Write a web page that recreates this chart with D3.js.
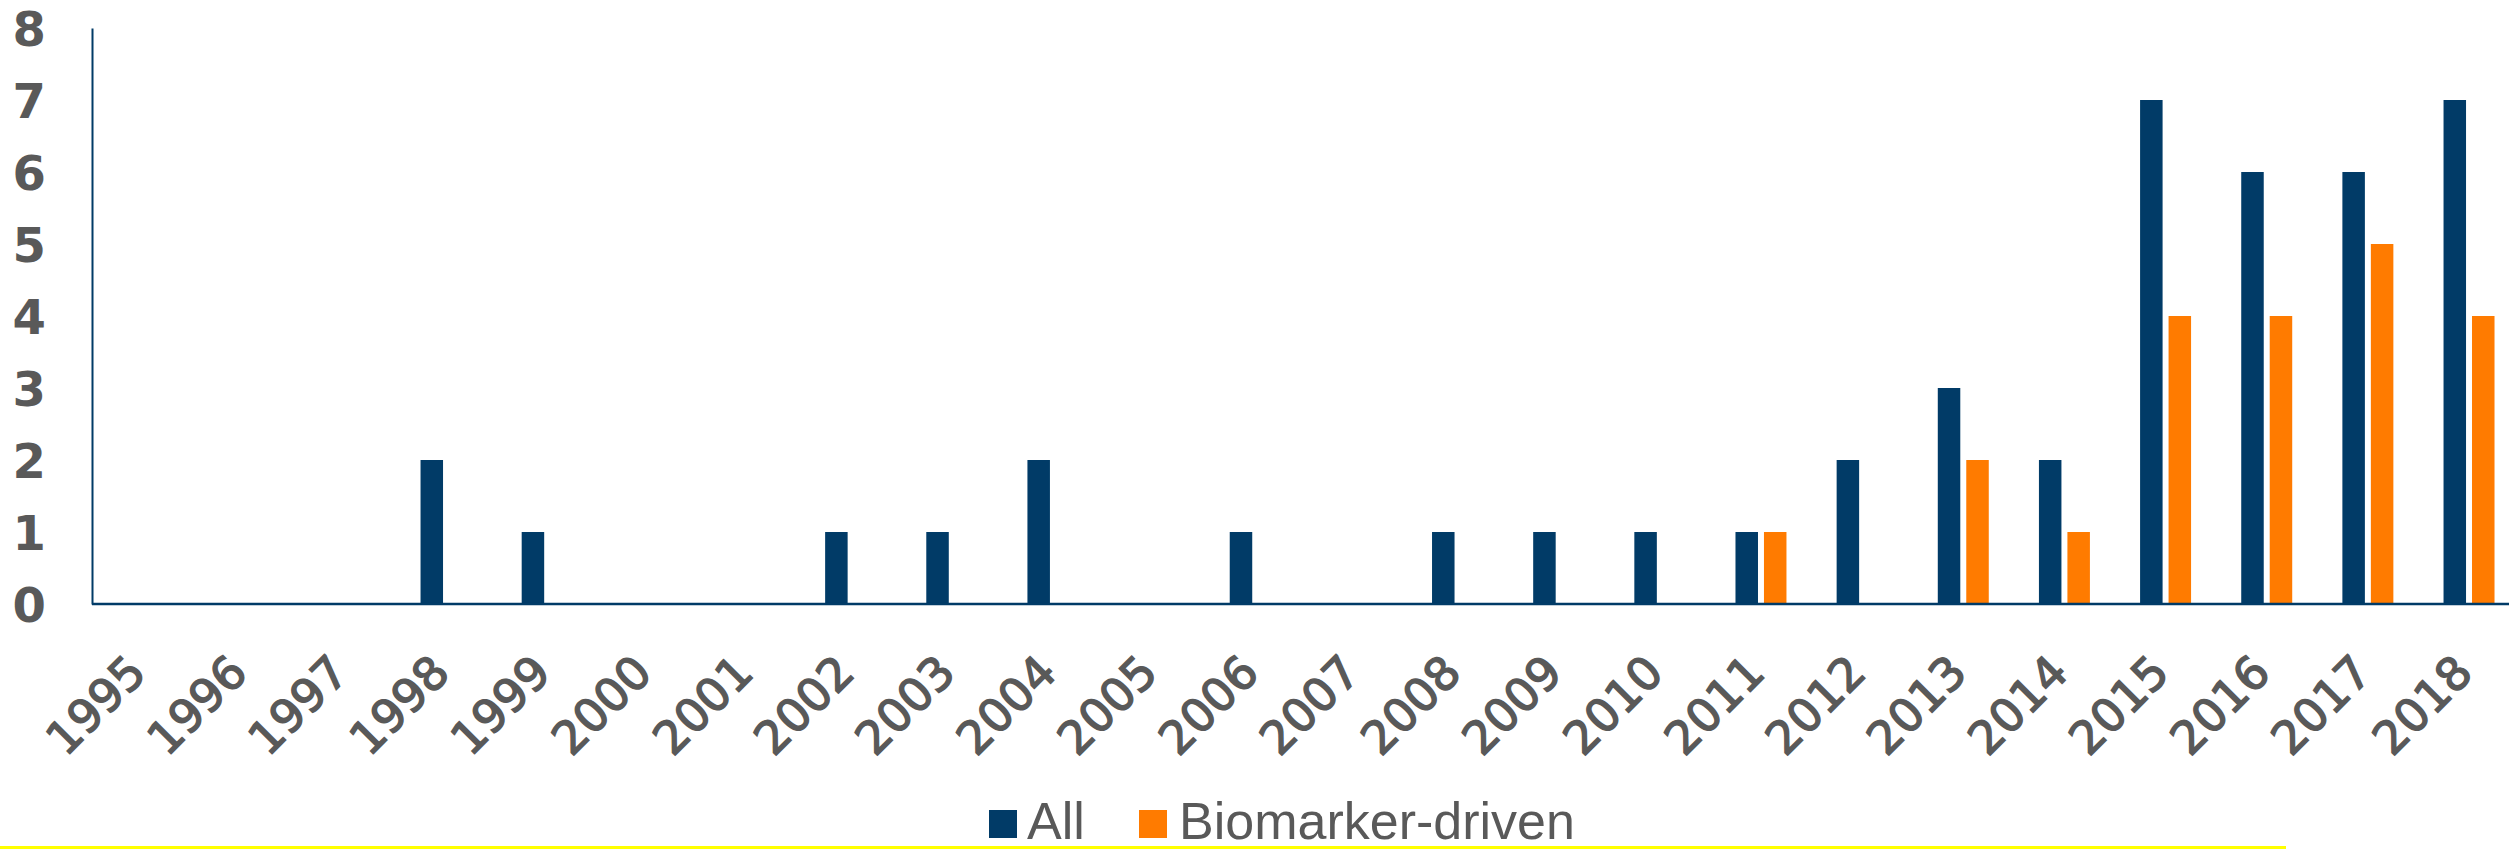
<!DOCTYPE html>
<html>
<head>
<meta charset="utf-8">
<script src="https://cdn.jsdelivr.net/npm/d3@7"></script>
<style>
  html, body { margin: 0; padding: 0; background: #fff; }
  svg { display: block; }
</style>
</head>
<body>
<svg id="chart"></svg>
<script>
const years = ['1995', '1996', '1997', '1998', '1999', '2000', '2001', '2002', '2003', '2004', '2005', '2006',
  '2007', '2008', '2009', '2010', '2011', '2012', '2013', '2014', '2015', '2016', '2017', '2018'];
const allValues = [0, 0, 0, 2, 1, 0, 0, 1, 1, 2, 0, 1, 0, 1, 1, 1, 1, 2, 3, 2, 7, 6, 6, 7];
const biomarkerValues = [0, 0, 0, 0, 0, 0, 0, 0, 0, 0, 0, 0, 0, 0, 0, 0, 1, 0, 2, 1, 4, 4, 5, 4];
const seriesNames = ['All', 'Biomarker-driven'];
const yTicks = [0, 1, 2, 3, 4, 5, 6, 7, 8];

const W = 2509, H = 849;
const margin = { top: 28, left: 92, bottom: 245 };
const navy = '#013b67', orange = '#ff7b00', gray = '#595959';

const colorScale = d3.scaleOrdinal().domain(seriesNames).range([navy, orange]);

const svg = d3.select('#chart').attr('width', W).attr('height', H);

const baseY = H - margin.bottom; // 604
const y = d3.scaleLinear().domain([0, 8]).range([baseY, margin.top]);
const x = d3.scaleBand().domain(years).range([margin.left, margin.left + 24 * 101.15]).padding(0);
const bw = x.bandwidth();
const x1 = d3.scaleBand().domain(seriesNames).range([bw * 0.248, bw * 0.752]).paddingInner(0.21);

const rows = years.map((yr, i) => ({
  year: yr,
  values: [
    { key: 'All', value: allValues[i] },
    { key: 'Biomarker-driven', value: biomarkerValues[i] }
  ]
}));

// bars
svg.append('g')
  .selectAll('g')
  .data(rows)
  .join('g')
  .attr('transform', d => `translate(${x(d.year)},0)`)
  .selectAll('rect')
  .data(d => d.values.filter(v => v.value > 0))
  .join('rect')
  .attr('x', d => x1(d.key))
  .attr('width', x1.bandwidth())
  .attr('y', d => y(d.value))
  .attr('height', d => baseY - y(d.value))
  .attr('fill', d => colorScale(d.key));

// y axis
const yAxis = svg.append('g')
  .attr('transform', `translate(${margin.left},0)`)
  .call(d3.axisLeft(y).tickValues(yTicks).tickSize(0).tickPadding(46).tickSizeOuter(0));
yAxis.select('.domain').attr('stroke', navy).attr('stroke-width', 2);
yAxis.selectAll('text')
  .attr('dy', '0.36em')
  .style('font-family', '"DejaVu Sans", sans-serif')
  .style('font-weight', 'bold')
  .style('font-size', '48px')
  .style('fill', gray);

// x axis
const xAxis = svg.append('g')
  .attr('transform', `translate(0,${baseY})`)
  .call(d3.axisBottom(x).tickSize(0).tickSizeOuter(0));
xAxis.select('.domain').remove();
svg.append('line')
  .attr('x1', margin.left).attr('x2', W)
  .attr('y1', baseY).attr('y2', baseY)
  .attr('stroke', navy).attr('stroke-width', 2.5);
xAxis.selectAll('text')
  .attr('y', 0)
  .attr('dy', 0)
  .attr('transform', 'translate(6,71) rotate(-45)')
  .attr('text-anchor', 'end')
  .style('font-family', '"DejaVu Sans", sans-serif')
  .style('font-size', '46px')
  .style('fill', gray)
  .style('stroke', gray)
  .style('stroke-width', '1.4px');

// legend
const legendItems = [
  { name: 'All', sx: 989, tx: 1027 },
  { name: 'Biomarker-driven', sx: 1139, tx: 1179 }
];
const legend = svg.append('g');
legendItems.forEach(item => {
  legend.append('rect')
    .attr('x', item.sx).attr('y', 810)
    .attr('width', 28).attr('height', 28)
    .attr('fill', colorScale(item.name));
  legend.append('text')
    .attr('x', item.tx).attr('y', 839)
    .style('font-family', '"Liberation Sans", Arial, sans-serif')
    .style('font-size', '52px')
    .style('fill', gray)
    .text(item.name);
});

// yellow rule at the bottom
svg.append('rect')
  .attr('x', 0).attr('y', 846)
  .attr('width', 2286).attr('height', 3)
  .attr('fill', '#ffff00');
</script>
</body>
</html>
